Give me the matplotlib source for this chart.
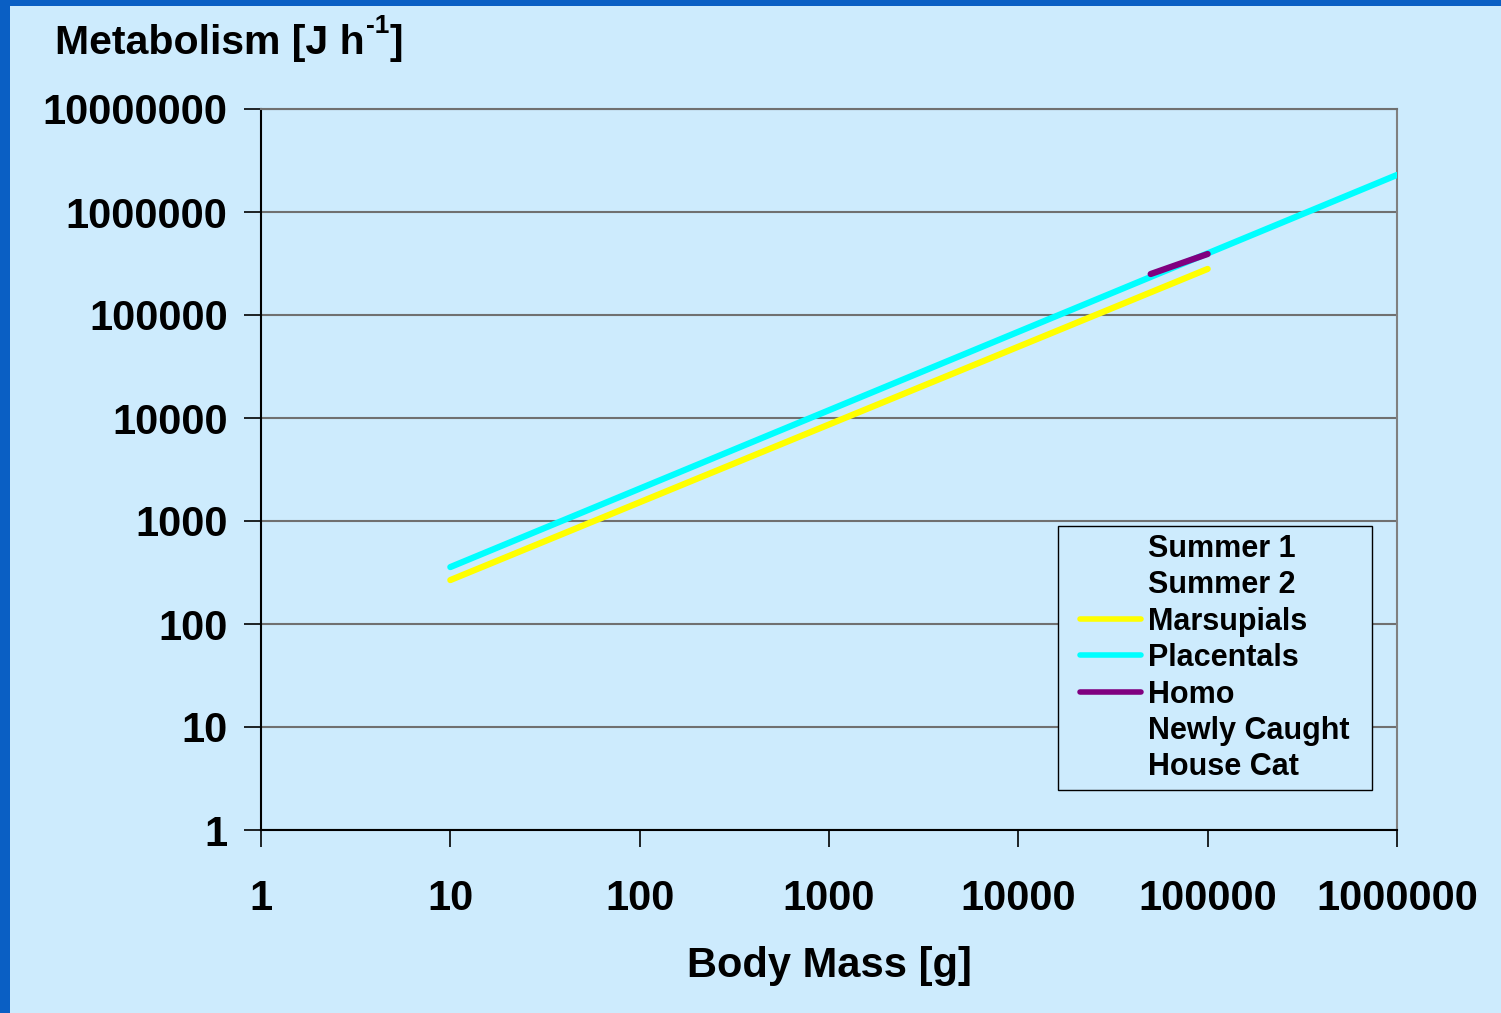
import matplotlib.pyplot as plt
from matplotlib.lines import Line2D
from matplotlib.patches import Rectangle
from matplotlib.legend_handler import HandlerLine2D

# data (body mass g, metabolism J/h)
marsupial_mass = [10, 100000]
marsupial_met = [267, 280000]
placental_mass = [10, 1000000]
placental_met = [357, 2290000]
homo_mass = [50000, 100000]
homo_met = [250000, 391000]

legend_labels = ['Summer 1', 'Summer 2', 'Marsupials', 'Placentals', 'Homo',
                 'Newly Caught', 'House Cat']
x_ticks = [1, 10, 100, 1000, 10000, 100000, 1000000]
y_ticks = [1, 10, 100, 1000, 10000, 100000, 1000000, 10000000]

bg = '#cdebfd'
plt.rcParams['font.family'] = ['Liberation Sans', 'DejaVu Sans']
plt.rcParams['font.weight'] = 'bold'


class ShiftedLine(HandlerLine2D):
    # legend line that leaves a gap on its left, like the Excel legend
    def create_artists(self, legend, orig_handle, xdescent, ydescent, width, height,
                       fontsize, trans):
        arts = super().create_artists(legend, orig_handle, xdescent, ydescent, width,
                                      height, fontsize, trans)
        for a in arts:
            xd = a.get_xdata()
            yd = a.get_ydata()
            if len(xd) >= 2:
                a.set_data([-xdescent + width * 0.19, -xdescent + width], [yd[0], yd[0]])
        return arts


fig = plt.figure(figsize=(15.01, 10.13), dpi=100)
fig.patch.set_facecolor('#0a5fc4')
# slide panel
fig.patches.append(Rectangle((10 / 1501, 0), 1, 1 - 6 / 1013, transform=fig.transFigure,
                             facecolor=bg, edgecolor='none', zorder=-10))

ax = fig.add_axes([261 / 1501, 1 - 830 / 1013, 1136 / 1501, 721 / 1013])
ax.set_facecolor(bg)
ax.set_xscale('log')
ax.set_yscale('log')
ax.set_xlim(1, 1000000)
ax.set_ylim(1, 10000000)

ax.plot(marsupial_mass, marsupial_met, color='#ffff00', lw=4.5, solid_capstyle='round', zorder=3)
ax.plot(placental_mass, placental_met, color='#00ffff', lw=4.5, solid_capstyle='round', zorder=3)
ax.plot(homo_mass, homo_met, color='#800080', lw=4.5, solid_capstyle='round', zorder=4)

ax.set_xticks(x_ticks)
ax.set_xticklabels([str(v) for v in x_ticks])
ax.set_yticks(y_ticks)
ax.set_yticklabels([str(v) for v in y_ticks])
ax.minorticks_off()
ax.tick_params(axis='both', labelsize=30, direction='out', length=12, width=1.2, color='black')
ax.tick_params(axis='x', pad=23)
ax.tick_params(axis='y', pad=12)
for lab in ax.get_xticklabels() + ax.get_yticklabels():
    lab.set_fontweight('bold')

ax.grid(axis='y', color='#707070', lw=1.5)
ax.set_axisbelow(True)
ax.spines['left'].set_color('black')
ax.spines['bottom'].set_color('black')
ax.spines['right'].set_color('#808080')
ax.spines['top'].set_color('#707070')
for s in ax.spines.values():
    s.set_linewidth(1.5)

ax.set_xlabel('Body Mass [g]', fontsize=30, fontweight='bold', labelpad=20)

# y-axis title at top left, with a small raised "-1"
fig.canvas.draw()
r = fig.canvas.get_renderer()
t1 = fig.text(55 / 1501, 1 - 54 / 1013, 'Metabolism [J h', fontsize=29.5,
              fontweight='bold', ha='left', va='baseline')
x1 = t1.get_window_extent(r).x1 / fig.bbox.width
t2 = fig.text(x1 + 1 / 1501, 1 - 33 / 1013, '-1', fontsize=19,
              fontweight='bold', ha='left', va='baseline')
x2 = t2.get_window_extent(r).x1 / fig.bbox.width
fig.text(x2 + 1 / 1501, 1 - 54 / 1013, ']', fontsize=29.5,
         fontweight='bold', ha='left', va='baseline')

colors = [None, None, '#ffff00', '#00ffff', '#800080', None, None]
handles = [Line2D([], [], color=c if c else 'none', lw=4, solid_capstyle='round')
           for c in colors]
leg = ax.legend(handles, legend_labels, loc='lower left', mode='expand',
                bbox_to_anchor=(0.7016, 0.0555, 0.2764, 0.3),
                handler_map={Line2D: ShiftedLine()},
                fontsize=22, frameon=True, fancybox=False, handlelength=2.47,
                handletextpad=0.23, labelspacing=0.21, borderpad=0.25, borderaxespad=0)
leg.get_frame().set_facecolor(bg)
leg.get_frame().set_edgecolor('black')
leg.get_frame().set_linewidth(1.0)
leg.get_frame().set_alpha(1)
for t in leg.get_texts():
    t.set_fontweight('bold')

fig.savefig('out.png', dpi=100, facecolor=fig.get_facecolor())
